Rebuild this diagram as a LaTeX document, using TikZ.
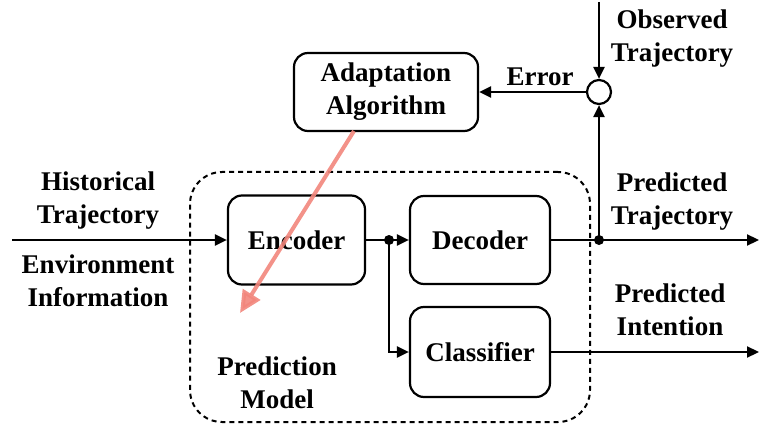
\documentclass[tikz,border=0pt]{standalone}
\usepackage{fontspec}
\setmainfont{Liberation Serif}
\usetikzlibrary{arrows.meta}
\definecolor{salmon}{RGB}{242,134,124}
\tikzset{
  txt/.style={font=\bfseries\fontsize{27}{33}\selectfont, align=center, inner sep=0pt},
  blk/.style={txt, draw, line width=2.2pt, rounded corners=14pt},
  arr/.style={-{Triangle[length=12pt,width=11pt]}, line width=2.2pt},
  ln/.style={line width=2.2pt},
  redarr/.style={-{Triangle[length=22pt,width=20pt]}, line width=4pt, draw=salmon, opacity=0.9},
}
\begin{document}
\begin{tikzpicture}[x=1pt,y=-1pt]
\useasboundingbox (0,0) rectangle (759,430);
% dashed model boundary
\node[draw, line width=2pt, dash pattern=on 5pt off 4pt, rounded corners=32pt,
      minimum width=400pt, minimum height=250pt, inner sep=0pt] (model) at (390,297) {};
% blocks
\node[blk, minimum width=184pt, minimum height=78pt] (adapt) at (386,92) {Adaptation\\Algorithm};
\node[blk, minimum width=137pt, minimum height=89pt] (enc) at (296.5,240) {Encoder};
\node[blk, minimum width=140pt, minimum height=88pt] (dec) at (480,240) {Decoder};
\node[blk, minimum width=140pt, minimum height=90pt] (cls) at (480,352) {Classifier};
\node[circle, draw, line width=2.2pt, minimum size=24pt, inner sep=0pt] (sum) at (599,92) {};
% coordinates
\coordinate (in) at (12,240);
\coordinate (j1) at (389,240);
\coordinate (j2) at (599,240);
\coordinate (outT) at (759,240);
\coordinate (outI) at (759,352);
\coordinate (obs) at (599,2);
\coordinate (rs) at (354,131);
\coordinate (re) at (240,313);
% connectors
\draw[arr] (in) -- (enc.west);
\draw[ln] (enc.east) -- (j1);
\draw[arr] (j1) -- (dec.west);
\draw[arr] (j1) |- (cls.west);
\draw[arr] (dec.east) -- (outT);
\draw[arr] (j2) -- (sum.south);
\draw[arr] (obs) -- (sum.north);
\draw[arr] (sum.west) -- (adapt.east);
\draw[arr] (cls.east) -- (outI);
\fill (j1) circle (5pt);
\fill (j2) circle (5pt);
\draw[redarr] (rs) -- (re);
% labels
\node[txt] (hist) at (98,201) {Historical\\Trajectory};
\node[txt] (env) at (98,281) {Environment\\Information};
\node[txt] (obsl) at (672,39) {Observed\\Trajectory};
\node[txt] (err) at (540,77) {Error};
\node[txt] (pt) at (672,202) {Predicted\\Trajectory};
\node[txt] (pi) at (670,310) {Predicted\\Intention};
\node[txt] (pm) at (277,383) {Prediction\\Model};
\end{tikzpicture}
\end{document}
